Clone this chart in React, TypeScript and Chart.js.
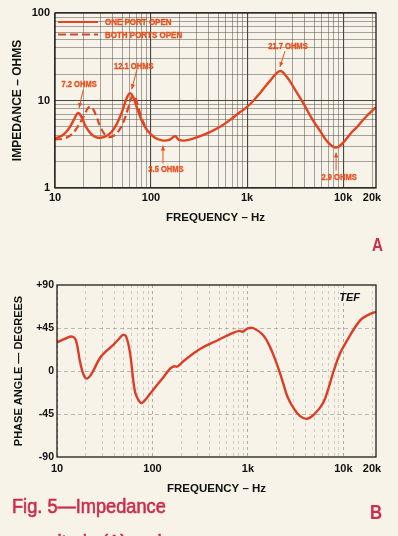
import { useEffect, useRef } from "react";
import { Chart, registerables } from "chart.js";
Chart.register(...registerables);

// ---------- DATA ----------
const onePortFreq = [10, 12, 14, 15.8, 17.4, 19, 21, 24, 27, 30, 34, 39, 44, 50, 55, 60, 65, 71, 80, 92, 108, 130, 155, 178, 195, 230, 300, 400, 523, 680, 846, 900, 1100, 1366, 1750, 2200, 2600, 3200, 3830, 4700, 5750, 7000, 8450, 10000, 12000, 14000, 17500, 22000];
const onePortOhms = [3.7, 4.0, 4.8, 6.1, 7.2, 6.4, 5.0, 4.1, 3.8, 3.75, 3.9, 4.4, 5.4, 7.5, 10.2, 12.1, 11.0, 8.4, 5.9, 4.5, 3.8, 3.5, 3.55, 3.9, 3.55, 3.5, 3.8, 4.3, 5.0, 6.1, 7.4, 7.7, 9.3, 12.2, 17, 21.7, 18.5, 13, 9.4, 6.3, 4.5, 3.3, 2.9, 3.3, 4.2, 5.0, 6.6, 8.4];

const bothPortsFreq = [10, 12, 14.5, 17, 19.5, 22.8, 25, 27.5, 30.5, 34.8, 40, 46, 52, 58, 63, 67, 72, 80, 90];
const bothPortsOhms = [3.6, 3.65, 4.0, 4.9, 6.3, 8.5, 7.9, 6.2, 4.7, 3.9, 3.9, 4.5, 5.8, 8.3, 11.0, 11.4, 9.2, 6.2, 4.7];

const phaseFreq = [10, 12, 14.4, 15.8, 17.4, 19, 20.6, 23, 28.2, 33, 38.6, 44, 49.2, 53, 58, 65.7, 72, 77.8, 94, 129, 155, 170, 180, 195, 209, 315, 500, 700, 828, 870, 1000, 1133, 1442, 1709, 2000, 2281, 2600, 2978, 3500, 4173, 5000, 6134, 7000, 7813, 9200, 10965, 15000, 18500, 22000];
const phaseDeg = [30, 33.5, 36, 32, 10, -4, -8, -3, 13.6, 21, 27, 33, 37.7, 36, 20, -22, -31, -33.5, -24, -7, 3, 5, 4.5, 7, 10, 23, 33, 40, 42, 41, 44.5, 45, 37.7, 25, 8, -9, -27, -38, -47, -50, -45, -33.5, -18, -2, 18, 32, 53, 59, 62];

const freqGrid = [10, 20, 30, 40, 50, 60, 70, 80, 90, 100, 200, 300, 400, 500, 600, 700, 800, 900, 1000, 2000, 3000, 4000, 5000, 6000, 7000, 8000, 9000, 10000, 20000];
const freqDecades = [10, 100, 1000, 10000];
const freqTickText: Record<number, string> = { 10: "10", 100: "100", 1000: "1k", 10000: "10k", 20000: "20k" };
const ohmGrid = [1, 2, 3, 4, 5, 6, 7, 8, 9, 10, 20, 30, 40, 50, 60, 70, 80, 90, 100];
const ohmTickText: Record<number, string> = { 1: "1", 10: "10", 100: "100" };
const phaseTicks = [-90, -45, 0, 45, 90];
const phaseTickText = ["-90", "-45", "0", "+45", "+90"];

const legendLabels = ["ONE PORT OPEN", "BOTH PORTS OPEN"];
const noteTexts = ["7.2 OHMS", "12.1 OHMS", "3.5 OHMS", "21.7 OHMS", "2.9 OHMS"];
const noteFreq = [17.4, 60, 130, 2200, 8450];
const noteOhms = [7.2, 12.1, 3.5, 21.7, 2.9];

// ---------- STYLE ----------
const CURVE = "#e4431f";
const CURVE_B = "#dc3d26";
const NOTE = "#e8511f";
const CRIMSON = "#cc2d4c";
const BG = "#f7f3e8";
const SANS = '"Liberation Sans", Arial, sans-serif';
const NARROW_SCALE = 0.84;
const CAPTION_SCALE = 0.91;

// offsets (pixels) of text / arrow relative to the annotated point
const noteLayout = [
  { tx: 1, ty: -28, ax: 5, ay: -23, px: 1, py: -5 },
  { tx: 4, ty: -27, ax: 7, ay: -23, px: 2, py: -4 },
  { tx: 4, ty: 29, ax: 1, ay: 23, px: 1, py: 5 },
  { tx: 8, ty: -25, ax: 5, ay: -20, px: 0, py: -4 },
  { tx: 3, ty: 30, ax: 0, ay: 23, px: 0, py: 5 },
];

const framePlugin = {
  id: "frame",
  afterDatasetsDraw(chart: any) {
    const { ctx, chartArea: a } = chart;
    ctx.save();
    ctx.strokeStyle = "#1e1e1e";
    ctx.lineWidth = 1.3;
    ctx.strokeRect(a.left, a.top, a.right - a.left, a.bottom - a.top);
    ctx.restore();
  },
};

function narrowText(ctx: CanvasRenderingContext2D, text: string, x: number, y: number, align: "left" | "center") {
  ctx.save();
  ctx.translate(x, y);
  ctx.scale(NARROW_SCALE, 1);
  ctx.textAlign = align;
  ctx.fillText(text, 0, 0);
  ctx.lineWidth = 0.35;
  ctx.strokeStyle = ctx.fillStyle as string;
  ctx.strokeText(text, 0, 0);
  ctx.restore();
}

function arrow(ctx: CanvasRenderingContext2D, x1: number, y1: number, x2: number, y2: number) {
  ctx.beginPath();
  ctx.moveTo(x1, y1);
  ctx.lineTo(x2, y2);
  ctx.stroke();
  const ang = Math.atan2(y2 - y1, x2 - x1);
  const L = 5, W = 2.2;
  ctx.beginPath();
  ctx.moveTo(x2, y2);
  ctx.lineTo(x2 - L * Math.cos(ang) + W * Math.sin(ang), y2 - L * Math.sin(ang) - W * Math.cos(ang));
  ctx.lineTo(x2 - L * Math.cos(ang) - W * Math.sin(ang), y2 - L * Math.sin(ang) + W * Math.cos(ang));
  ctx.closePath();
  ctx.fill();
}

const notesPlugin = {
  id: "notes",
  afterDatasetsDraw(chart: any) {
    const { ctx, chartArea: a, scales } = chart;
    ctx.save();
    // legend
    ctx.fillStyle = NOTE;
    ctx.font = `bold 9.5px ${SANS}`;
    ctx.textBaseline = "middle";
    legendLabels.forEach((lab, i) => {
      const y = a.top + 9 + i * 12.5;
      ctx.strokeStyle = CURVE;
      ctx.lineWidth = 2.2;
      ctx.setLineDash(i === 0 ? [] : [8, 4]);
      ctx.beginPath();
      ctx.moveTo(a.left + 3, y);
      ctx.lineTo(a.left + 43, y);
      ctx.stroke();
      ctx.setLineDash([]);
      narrowText(ctx, lab, a.left + 50, y + 0.5, "left");
    });
    // annotations
    ctx.font = `bold 9px ${SANS}`;
    noteTexts.forEach((t, i) => {
      const x = scales.x.getPixelForValue(noteFreq[i]);
      const y = scales.y.getPixelForValue(noteOhms[i]);
      const L = noteLayout[i];
      narrowText(ctx, t, x + L.tx, y + L.ty, "center");
      ctx.lineWidth = 1;
      ctx.strokeStyle = NOTE;
      arrow(ctx, x + L.ax, y + L.ay, x + L.px, y + L.py);
    });
    ctx.restore();
  },
};

const tefPlugin = {
  id: "tef",
  afterDatasetsDraw(chart: any) {
    const { ctx, chartArea: a } = chart;
    ctx.save();
    ctx.fillStyle = "#111";
    ctx.font = `italic bold 11px ${SANS}`;
    ctx.textAlign = "right";
    ctx.textBaseline = "middle";
    ctx.fillText("TEF", a.right - 16, a.top + 13);
    ctx.restore();
  },
};

function pts(xs: number[], ys: number[]) {
  return xs.map((x, i) => ({ x, y: ys[i] }));
}

export default function App() {
  const refA = useRef<HTMLCanvasElement>(null);
  const refB = useRef<HTMLCanvasElement>(null);

  useEffect(() => {
    const tickFont = { family: SANS, size: 11, weight: "bold" as const };
    const chartA = new Chart(refA.current!, {
      type: "line",
      data: {
        datasets: [
          {
            data: pts(onePortFreq, onePortOhms),
            borderColor: CURVE,
            borderWidth: 2.4,
            pointRadius: 0,
            tension: 0.4,
          },
          {
            data: pts(bothPortsFreq, bothPortsOhms),
            borderColor: CURVE,
            borderWidth: 2.2,
            borderDash: [7, 4],
            pointRadius: 0,
            tension: 0.4,
          },
        ],
      },
      options: {
        animation: false,
        responsive: false,
        devicePixelRatio: 1,
        parsing: false as any,
        layout: { padding: { top: 13, right: 22, left: 0, bottom: 0 } },
        plugins: { legend: { display: false }, tooltip: { enabled: false } },
        scales: {
          x: {
            type: "logarithmic",
            min: 10,
            max: 22000,
            afterBuildTicks: (s: any) => {
              s.ticks = freqGrid.map((v) => ({ value: v }));
            },
            afterFit: (s: any) => {
              s.height = 62;
            },
            ticks: {
              autoSkip: false,
              maxRotation: 0,
              padding: 3,
              color: "#111",
              font: tickFont,
              callback: (v: any) => freqTickText[Number(v)] ?? "",
            },
            grid: {
              drawTicks: false,
              color: (c: any) => (freqDecades.includes(c.tick?.value) ? "rgba(40,40,40,0.85)" : "rgba(70,70,70,0.6)"),
              lineWidth: (c: any) => (freqDecades.includes(c.tick?.value) ? 1.1 : 0.8),
            },
            border: { display: false },
            title: {
              display: true,
              text: "FREQUENCY – Hz",
              color: "#111",
              font: { family: SANS, size: 11.5, weight: "bold" },
              padding: { top: 0, bottom: 25 },
            },
          },
          y: {
            type: "logarithmic",
            min: 1,
            max: 100,
            afterBuildTicks: (s: any) => {
              s.ticks = ohmGrid.map((v) => ({ value: v }));
            },
            afterFit: (s: any) => {
              s.width = 55;
            },
            ticks: {
              autoSkip: false,
              padding: 5,
              color: "#111",
              font: tickFont,
              callback: (v: any) => ohmTickText[Number(v)] ?? "",
            },
            grid: {
              drawTicks: false,
              color: (c: any) => ([1, 10, 100].includes(c.tick?.value) ? "rgba(40,40,40,0.85)" : "rgba(70,70,70,0.6)"),
              lineWidth: (c: any) => ([1, 10, 100].includes(c.tick?.value) ? 1.1 : 0.8),
            },
            border: { display: false },
            title: {
              display: true,
              text: "IMPEDANCE – OHMS",
              color: "#111",
              font: { family: SANS, size: 12, weight: "bold" },
              padding: { top: 10, bottom: 0 },
            },
          },
        },
      },
      plugins: [framePlugin, notesPlugin],
    });

    const chartB = new Chart(refB.current!, {
      type: "line",
      data: {
        datasets: [
          {
            data: pts(phaseFreq, phaseDeg),
            borderColor: CURVE_B,
            borderWidth: 2.4,
            pointRadius: 0,
            tension: 0.4,
          },
        ],
      },
      options: {
        animation: false,
        responsive: false,
        devicePixelRatio: 1,
        parsing: false as any,
        layout: { padding: { top: 35, right: 22, left: 0, bottom: 0 } },
        plugins: { legend: { display: false }, tooltip: { enabled: false } },
        scales: {
          x: {
            type: "logarithmic",
            min: 10,
            max: 22000,
            afterBuildTicks: (s: any) => {
              s.ticks = freqGrid.map((v) => ({ value: v }));
            },
            afterFit: (s: any) => {
              s.height = 43;
            },
            ticks: {
              autoSkip: false,
              maxRotation: 0,
              padding: 5,
              color: "#111",
              font: tickFont,
              callback: (v: any) => freqTickText[Number(v)] ?? "",
            },
            grid: {
              drawTicks: false,
              color: (c: any) => (freqDecades.includes(c.tick?.value) ? "rgba(90,90,90,0.5)" : "rgba(120,120,120,0.35)"),
              lineWidth: 0.9,
            },
            border: { display: false, dash: [3, 3] },
            title: {
              display: true,
              text: "FREQUENCY – Hz",
              color: "#111",
              font: { family: SANS, size: 11.5, weight: "bold" },
              padding: { top: 0, bottom: 4 },
            },
          },
          y: {
            type: "linear",
            min: -90,
            max: 90,
            afterBuildTicks: (s: any) => {
              s.ticks = phaseTicks.map((v) => ({ value: v }));
            },
            afterFit: (s: any) => {
              s.width = 57;
            },
            ticks: {
              autoSkip: false,
              padding: 3,
              color: "#111",
              font: { family: SANS, size: 10.5, weight: "bold" },
              callback: (v: any) => phaseTickText[phaseTicks.indexOf(Number(v))] ?? "",
            },
            grid: {
              drawTicks: false,
              color: (c: any) => (Math.abs(c.tick?.value) === 90 ? "rgba(0,0,0,0)" : "rgba(100,100,100,0.45)"),
              lineWidth: 0.9,
            },
            border: { display: false, dash: [4, 3] },
            title: {
              display: true,
              text: "PHASE ANGLE — DEGREES",
              color: "#111",
              font: { family: SANS, size: 11, weight: "bold" },
              padding: { top: 12, bottom: 0 },
            },
          },
        },
      },
      plugins: [framePlugin, tefPlugin],
    });

    return () => {
      chartA.destroy();
      chartB.destroy();
    };
  }, []);

  const capFont = SANS;
  const narrow = { transform: `scaleX(${NARROW_SCALE})`, transformOrigin: "left top" };
  const capNarrow = { transform: `scaleX(${CAPTION_SCALE})`, transformOrigin: "left top", WebkitTextStroke: "0.6px " + CRIMSON };
  return (
    <div style={{ position: "fixed", left: 0, top: 0, width: 398, height: 536, background: BG, overflow: "hidden" }}>
      <canvas ref={refA} width={398} height={250} style={{ position: "absolute", left: 0, top: 0 }} />
      <canvas ref={refB} width={398} height={250} style={{ position: "absolute", left: 0, top: 250 }} />
      <div style={{ position: "absolute", left: 372, top: 236, fontFamily: capFont, fontWeight: "bold", fontSize: 18, lineHeight: "18px", color: CRIMSON, ...narrow }}>A</div>
      <div style={{ position: "absolute", left: 370, top: 502, fontFamily: capFont, fontWeight: "bold", fontSize: 20, lineHeight: "20px", color: CRIMSON, ...narrow }}>B</div>
      <div style={{ position: "absolute", left: 12, top: 496, fontFamily: capFont, fontSize: 20, lineHeight: "20px", color: CRIMSON, whiteSpace: "nowrap", ...capNarrow }}>Fig. 5—Impedance</div>
      <div style={{ position: "absolute", left: 12, top: 532, fontFamily: capFont, fontSize: 20, lineHeight: "20px", color: CRIMSON, whiteSpace: "nowrap", ...capNarrow }}>magnitude (A) and</div>
    </div>
  );
}
